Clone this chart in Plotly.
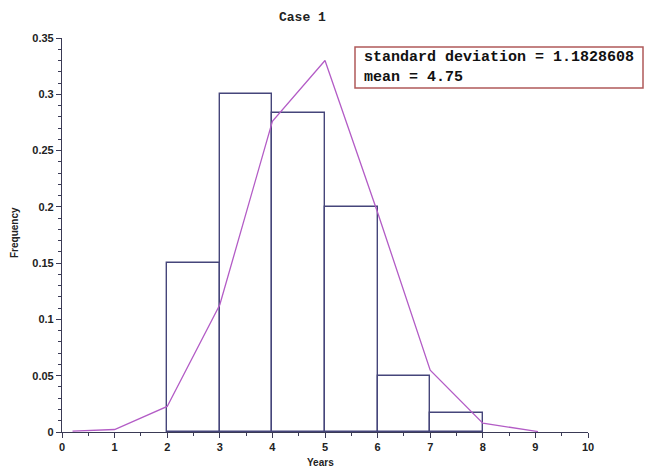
import plotly.graph_objects as go

# Histogram bins (left edges) and relative frequencies
bin_left = [2, 3, 4, 5, 6, 7]
bin_freq = [0.15, 0.30, 0.2833, 0.20, 0.05, 0.0167]

# Fitted normal curve points
curve_x = [0.2, 1, 2, 3, 4, 5, 6, 7, 8, 9.05]
curve_y = [0.0008, 0.0022, 0.0227, 0.113, 0.276, 0.33, 0.195, 0.055, 0.0078, 0.0004]

x_ticks = [0, 1, 2, 3, 4, 5, 6, 7, 8, 9, 10]
y_ticks = [0, 0.05, 0.1, 0.15, 0.2, 0.25, 0.3, 0.35]
y_tick_labels = ["0", "0.05", "0.1", "0.15", "0.2", "0.25", "0.3", "0.35"]

title_text = "Case 1"
x_title = "Years"
y_title = "Frequency"
stats_text = "standard deviation = 1.1828608<br>mean = 4.75"

bar_color = "#45457a"
curve_color = "#b35cc6"
axis_color = "#3a3a55"

W, H = 645, 470
L, R, T, B = 62, 57, 38, 38
PW, PH = W - L - R, H - T - B

fig = go.Figure()
fig.add_trace(go.Bar(
    x=[b + 0.5 for b in bin_left], y=bin_freq, width=1,
    marker=dict(color="rgba(0,0,0,0)", line=dict(color=bar_color, width=1.4)),
    showlegend=False, hoverinfo="skip",
))
fig.add_trace(go.Scatter(
    x=curve_x, y=curve_y, mode="lines",
    line=dict(color=curve_color, width=1.3), showlegend=False,
))

tick_font = dict(family="Liberation Sans", size=11, color="#222222", weight="bold")

fig.update_layout(
    width=W, height=H,
    margin=dict(l=L, r=R, t=T, b=B, autoexpand=False),
    paper_bgcolor="white", plot_bgcolor="white",
    bargap=0,
)
fig.update_xaxes(
    range=[0, 10], tickvals=x_ticks, showgrid=False, zeroline=False, automargin=False,
    showline=True, linecolor=axis_color, linewidth=1.2,
    ticks="outside", ticklen=5, tickcolor=axis_color, tickwidth=1.2,
    minor=dict(dtick=0.5, ticks="outside", ticklen=3, tickcolor=axis_color, showgrid=False),
    tickfont=tick_font,
)
fig.update_yaxes(
    range=[0, 0.35], tickvals=y_ticks, ticktext=y_tick_labels, showgrid=False, zeroline=False,
    automargin=False,
    showline=True, linecolor=axis_color, linewidth=1.2,
    ticks="outside", ticklen=5, tickcolor=axis_color, tickwidth=1.2,
    minor=dict(dtick=0.01, ticks="outside", ticklen=3, tickcolor=axis_color, showgrid=False),
    tickfont=tick_font,
)

def px_x(p):
    return (p - L) / PW

def px_y(p):
    return (H - B - p) / PH

# Titles
fig.add_annotation(xref="paper", yref="paper", x=px_x(302), y=px_y(17), xanchor="center", yanchor="middle",
                   showarrow=False, text=title_text,
                   font=dict(family="Liberation Mono", size=13, color="#222222", weight="bold"))
fig.add_annotation(xref="paper", yref="paper", x=px_x(320), y=px_y(462), xanchor="center", yanchor="middle",
                   showarrow=False, text=x_title,
                   font=dict(family="Liberation Sans", size=10, color="#222222", weight="bold"))
fig.add_annotation(xref="paper", yref="paper", x=px_x(14), y=px_y(233), xanchor="center", yanchor="middle",
                   showarrow=False, text=y_title, textangle=-90,
                   font=dict(family="Liberation Sans", size=10, color="#222222", weight="bold"))

# Stats box
px0, px1 = 355, 643
py0, py1 = 47, 88
fig.add_shape(type="rect", xref="paper", yref="paper",
              x0=px_x(px0), x1=px_x(px1), y0=px_y(py1), y1=px_y(py0),
              line=dict(color="#b05a5a", width=1.5), fillcolor="white", layer="above")
fig.add_annotation(xref="paper", yref="paper", x=px_x(362), y=px_y(67.5),
                   xanchor="left", yanchor="middle", align="left", showarrow=False,
                   text=stats_text,
                   font=dict(family="Liberation Mono", size=15, color="#111111", weight="bold"))

fig.write_html("out.html", config={"displayModeBar": False},
               post_script="document.body.style.margin='0';document.body.style.overflow='hidden';")
